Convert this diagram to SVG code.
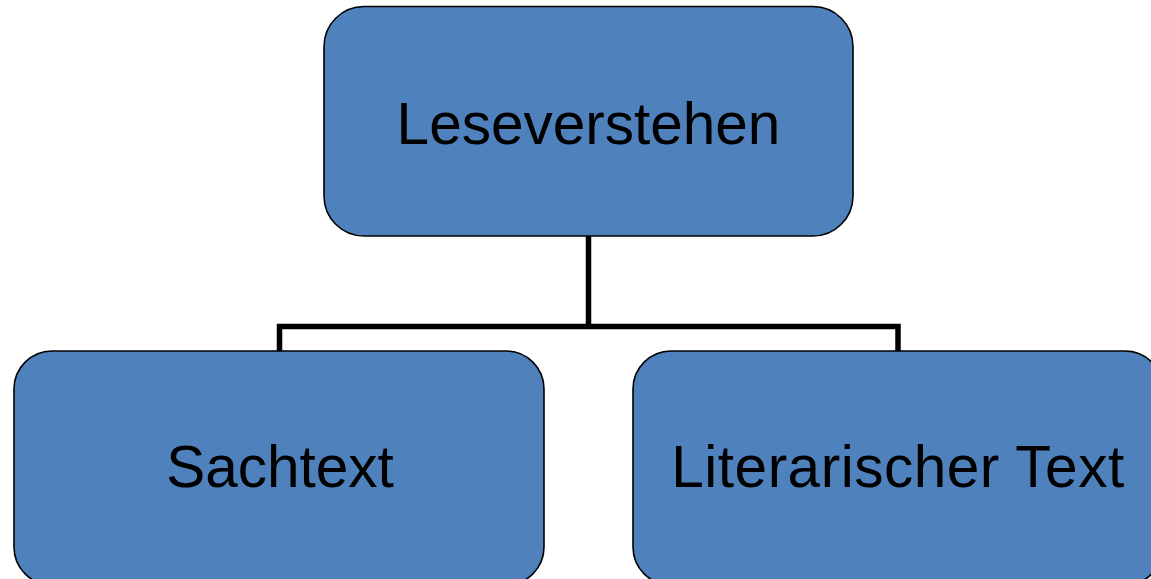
<svg xmlns="http://www.w3.org/2000/svg" width="1151" height="579" viewBox="0 0 1151 579">
<style>
.box{fill:#4F81BD;stroke:#000;stroke-width:1.6}
.lbl{font-family:"Liberation Sans",Arial,sans-serif;font-size:58.5px;fill:#000;text-anchor:middle}
.conn{fill:none;stroke:#000;stroke-width:5.5}
</style>
<rect width="1151" height="579" fill="#fff"/>
<g id="connectors">
<path class="conn" d="M588.5,236 V326.5"/>
<path class="conn" d="M279.5,351 V326.5 H898 V351"/>
</g>
<g id="node-leseverstehen">
<rect class="box" x="324" y="6.5" width="529" height="229.5" rx="40" ry="40"/>
<text class="lbl" x="588.5" y="143.5">Leseverstehen</text>
</g>
<g id="node-sachtext">
<rect class="box" x="14" y="351" width="530" height="234" rx="38" ry="38"/>
<text class="lbl" x="280" y="487">Sachtext</text>
</g>
<g id="node-literarisch">
<rect class="box" x="633" y="351" width="530" height="234" rx="38" ry="38"/>
<text class="lbl" x="898" y="487" style="letter-spacing:0.5px">Literarischer Text</text>
</g>
</svg>
